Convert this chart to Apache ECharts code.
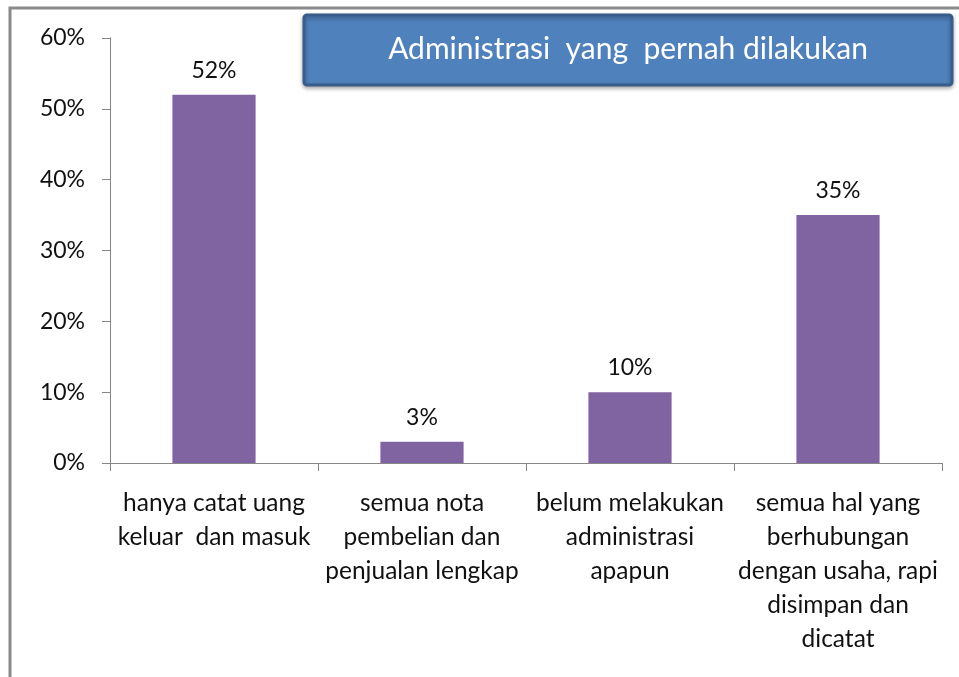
<!DOCTYPE html>
<html><head><meta charset="utf-8">
<script src="https://cdn.jsdelivr.net/npm/echarts@6/dist/echarts.min.js"></script>
<style>html,body{margin:0;padding:0;background:#fff}#c{width:959px;height:677px}</style>
</head><body><div id="c"></div>
<script>
const categories = [
  'hanya catat uang\nkeluar  dan masuk',
  'semua nota\npembelian dan\npenjualan lengkap',
  'belum melakukan\nadministrasi\napapun',
  'semua hal yang\nberhubungan\ndengan usaha, rapi\ndisimpan dan\ndicatat'
];
const values = [52, 3, 10, 35];
const yTicks = { min: 0, max: 60, interval: 10 };
const titleText = 'Administrasi  yang  pernah dilakukan';

const font = 'Lato, "Noto Sans", sans-serif';
const chart = echarts.init(document.getElementById('c'));
chart.setOption({
  animation: false,
  backgroundColor: '#fff',
  grid: { left: 110, right: 17, top: 38, bottom: 214 },
  xAxis: {
    type: 'category', data: categories,
    axisLine: { lineStyle: { color: '#868686', width: 1 } },
    axisTick: { show: true, length: 8, lineStyle: { color: '#868686' } },
    axisLabel: { color: '#111', fontFamily: font, fontSize: 24.5, lineHeight: 34, margin: 23, interval: 0 },
    splitLine: { show: false }
  },
  yAxis: {
    type: 'value', min: yTicks.min, max: yTicks.max, interval: yTicks.interval,
    axisLine: { show: true, lineStyle: { color: '#868686', width: 1 } },
    axisTick: { show: true, length: 8, lineStyle: { color: '#868686' } },
    axisLabel: { color: '#111', fontFamily: font, fontSize: 23, margin: 25, formatter: '{value}%' },
    splitLine: { show: false }
  },
  series: [{
    type: 'bar', data: values, barWidth: '40%',
    itemStyle: { color: '#8064a2' },
    label: { show: true, position: 'top', distance: 13, color: '#111', fontFamily: font, fontSize: 23, formatter: '{c}%' }
  }],
  graphic: [
    { type: 'rect', shape: { x: 10, y: 8, width: 1000, height: 1000 }, style: { fill: 'none', stroke: '#8a8a8a', lineWidth: 3 }, z: 100 },
    { type: 'rect', shape: { x: 304, y: 15, width: 648, height: 70, r: 3 }, style: { fill: '#4f81bd', stroke: '#385d8a', lineWidth: 3, shadowBlur: 4, shadowColor: 'rgba(0,0,0,0.3)', shadowOffsetY: 2 }, z: 100 },
    { type: 'text', x: 628, y: 49, style: { text: titleText, fill: '#fff', font: '30px ' + font, align: 'center', verticalAlign: 'middle' }, z: 101 }
  ]
});
</script></body></html>
